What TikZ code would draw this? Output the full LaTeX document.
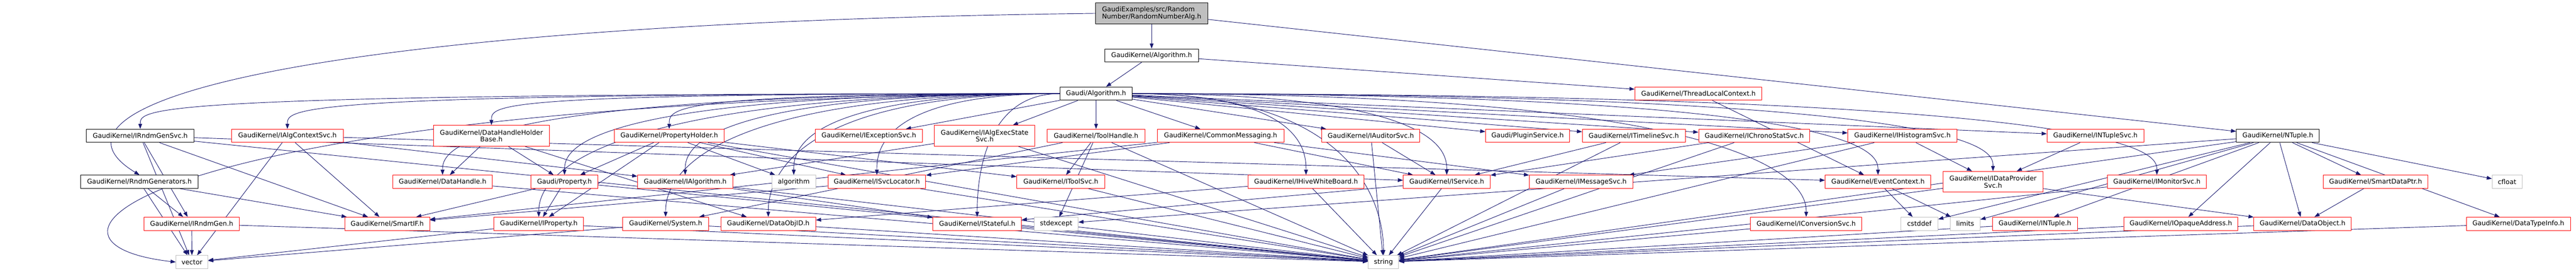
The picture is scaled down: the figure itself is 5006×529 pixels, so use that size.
\documentclass[tikz,border=0pt]{standalone}
\usepackage{fontspec}
\setmainfont{DejaVu Sans}
\usepackage{tikz}
\usetikzlibrary{arrows.meta,backgrounds}
\definecolor{edgeblue}{HTML}{191970}
\definecolor{leafgray}{HTML}{BFBFBF}

\begin{document}
\begin{tikzpicture}[x=0.75pt, y=-0.75pt,
    every node/.style={font=\fontsize{9.6}{10.1}\selectfont, inner sep=0pt, align=center,
      minimum height=19.3pt, line width=0.75pt, fill=white},
    hdr/.style={draw=black},
    trunc/.style={draw=red},
    sys/.style={draw=leafgray},
    root/.style={draw=black, fill=leafgray, align=left},
    tall/.style={minimum height=30.4pt},
    wd/.style={minimum width=#1*0.75pt},
    dep/.style={draw=edgeblue, line width=0.7pt, -{Triangle[length=7.5pt,width=5.5pt]}}]
    \useasboundingbox (0,0) rectangle (5006,529);

    % top rows
    \node[root, wd=218, tall] (top) at (2238,26) {GaudiExamples/src/Random\\Number/RandomNumberAlg.h};
    \node[hdr, wd=182] (kalg) at (2238,108) {GaudiKernel/Algorithm.h};
    \node[hdr, wd=140] (galg) at (2130,182.3) {Gaudi/Algorithm.h};
    \node[trunc, wd=247] (tlc) at (3300.5,182.3) {GaudiKernel/ThreadLocalContext.h};

    % row 3
    \node[hdr, wd=209] (rgsvc) at (272.5,264.4) {GaudiKernel/IRndmGenSvc.h};
    \node[trunc, wd=217] (acsvc) at (558.5,264.4) {GaudiKernel/IAlgContextSvc.h};
    \node[trunc, wd=226, tall] (dhhb) at (955,264.4) {GaudiKernel/DataHandleHolder\\Base.h};
    \node[trunc, wd=213] (phold) at (1300.5,264.4) {GaudiKernel/PropertyHolder.h};
    \node[trunc, wd=209] (excsvc) at (1688.5,264.4) {GaudiKernel/IExceptionSvc.h};
    \node[trunc, wd=195, tall] (aessvc) at (1913.5,264.4) {GaudiKernel/IAlgExecState\\Svc.h};
    \node[trunc, wd=190] (thand) at (2130,264.4) {GaudiKernel/ToolHandle.h};
    \node[trunc, wd=246] (cmsg) at (2372,264.4) {GaudiKernel/CommonMessaging.h};
    \node[trunc, wd=190] (audsvc) at (2664,264.4) {GaudiKernel/IAuditorSvc.h};
    \node[trunc, wd=163] (plugin) at (2968.5,264.4) {Gaudi/PluginService.h};
    \node[trunc, wd=200] (tlsvc) at (3175,264.4) {GaudiKernel/ITimelineSvc.h};
    \node[trunc, wd=216] (chrono) at (3409,264.4) {GaudiKernel/IChronoStatSvc.h};
    \node[trunc, wd=212] (histo) at (3697,264.4) {GaudiKernel/IHistogramSvc.h};
    \node[trunc, wd=188] (ntsvc) at (4072,264.4) {GaudiKernel/INTupleSvc.h};
    \node[hdr, wd=161] (ntuple) at (4426.5,264.4) {GaudiKernel/NTuple.h};

    % row 4
    \node[hdr, wd=228] (rndm) at (271,354) {GaudiKernel/RndmGenerators.h};
    \node[trunc, wd=194] (dhand) at (860,354) {GaudiKernel/DataHandle.h};
    \node[trunc, wd=130] (prop) at (1097,354) {Gaudi/Property.h};
    \node[trunc, wd=185] (ialg) at (1331.5,354) {GaudiKernel/IAlgorithm.h};
    \node[sys, wd=85] (algo) at (1542.5,354) {algorithm};
    \node[trunc, wd=190] (svcloc) at (1704,354) {GaudiKernel/ISvcLocator.h};
    \node[trunc, wd=171] (toolsvc) at (2061.5,354) {GaudiKernel/IToolSvc.h};
    \node[trunc, wd=226] (hive) at (2538,354) {GaudiKernel/IHiveWhiteBoard.h};
    \node[trunc, wd=169] (isvc) at (2811.5,354) {GaudiKernel/IService.h};
    \node[trunc, wd=201] (msgsvc) at (3072.5,354) {GaudiKernel/IMessageSvc.h};
    \node[trunc, wd=205] (evctx) at (3649.5,354) {GaudiKernel/EventContext.h};
    \node[trunc, wd=194, tall] (dpsvc) at (3873,354) {GaudiKernel/IDataProvider\\Svc.h};
    \node[trunc, wd=193] (monsvc) at (4191.5,354) {GaudiKernel/IMonitorSvc.h};
    \node[trunc, wd=203] (sdptr) at (4616.5,354) {GaudiKernel/SmartDataPtr.h};
    \node[sys, wd=58] (cfloat) at (4872,354) {cfloat};

    % row 5
    \node[trunc, wd=185] (rgen) at (372.5,435.7) {GaudiKernel/IRndmGen.h};
    \node[trunc, wd=165] (smartif) at (752.5,435.7) {GaudiKernel/SmartIF.h};
    \node[trunc, wd=174] (iprop) at (1047,435.7) {GaudiKernel/IProperty.h};
    \node[trunc, wd=167] (system) at (1293.5,435.7) {GaudiKernel/System.h};
    \node[trunc, wd=184] (doid) at (1493,435.7) {GaudiKernel/DataObjID.h};
    \node[trunc, wd=172] (istate) at (1899,435.7) {GaudiKernel/IStateful.h};
    \node[sys, wd=85] (stdexc) at (2052.5,435.7) {stdexcept};
    \node[trunc, wd=216] (convsvc) at (3510,435.7) {GaudiKernel/IConversionSvc.h};
    \node[sys, wd=72] (cstddef) at (3730,435.7) {cstddef};
    \node[sys, wd=58] (limits) at (3819,435.7) {limits};
    \node[trunc, wd=165] (intuple) at (3954.5,435.7) {GaudiKernel/INTuple.h};
    \node[trunc, wd=222] (opaque) at (4238,435.7) {GaudiKernel/IOpaqueAddress.h};
    \node[trunc, wd=189] (dobj) at (4474.5,435.7) {GaudiKernel/DataObject.h};
    \node[trunc, wd=202] (dtinfo) at (4894,435.7) {GaudiKernel/DataTypeInfo.h};

    % row 6
    \node[sys, wd=62] (vector) at (373,510.3) {vector};
    \node[sys, wd=59] (string) at (2688.5,510.3) {string};

    \begin{pgfonlayer}{background}
    \draw[dep] (top) -- (kalg);
    \draw[dep] (top.west) .. controls (600,45) and (40,200) .. (rndm.north);
    \draw[dep] (top) -- (ntuple);
    \draw[dep] (kalg) -- (galg);
    \draw[dep] (kalg) -- (tlc);
    \draw[dep] (tlc) -- (evctx);

    % Gaudi/Algorithm.h includes
    \foreach \t in {rgsvc,acsvc,dhhb,phold,dhand,prop,ialg,algo,svcloc,iprop,system,doid,istate}
      \draw[dep] (galg.west) .. controls (galg.west -| \t.north) and ([yshift=30pt]\t.north) .. (\t.north);
    \draw[dep] (galg.west) .. controls (300,195) and (-10,470) .. (vector.west);
    \foreach \t in {hive,isvc,string,convsvc,evctx,dpsvc,monsvc}
      \draw[dep] (galg.east) .. controls (galg.east -| \t.north) and ([yshift=30pt]\t.north) .. (\t.north);
    \foreach \t in {excsvc,aessvc,thand,cmsg,audsvc,plugin,tlsvc,chrono,histo,ntsvc}
      \draw[dep] (galg) -- (\t);

    \foreach \t in {vector,smartif,rgen,string,isvc} \draw[dep] (rgsvc) -- (\t);
    \foreach \t in {rgen,smartif,vector} \draw[dep] (rndm) -- (\t);
    \foreach \t in {vector,string} \draw[dep] (rgen) -- (\t);
    \foreach \t in {vector,smartif,ialg,evctx} \draw[dep] (acsvc) -- (\t);
    \foreach \t in {dhand,prop,doid} \draw[dep] (dhhb) -- (\t);
    \foreach \t in {prop,iprop,algo,svcloc,toolsvc,string} \draw[dep] (phold) -- (\t);
    \foreach \t in {ialg,string} \draw[dep] (aessvc) -- (\t);
    \foreach \t in {toolsvc,stdexc,system,string} \draw[dep] (thand) -- (\t);
    \foreach \t in {svcloc,smartif,isvc,msgsvc} \draw[dep] (cmsg) -- (\t);
    \foreach \s in {audsvc,tlsvc,chrono} {
      \draw[dep] (\s) -- (isvc);
      \draw[dep] (\s) -- (string);
    }
    \foreach \t in {dpsvc,msgsvc,string} \draw[dep] (histo) -- (\t);
    \draw[dep] (ntsvc) -- (dpsvc);
    \foreach \t in {sdptr,dobj,opaque,intuple,limits,cstddef,cfloat,dtinfo,string,stdexc}
      \draw[dep] (ntuple) -- (\t);
    \foreach \t in {istate,string} \draw[dep] (ialg) -- (\t);
    \foreach \t in {smartif,string} \draw[dep] (svcloc) -- (\t);
    \foreach \t in {doid,string} \draw[dep] (hive) -- (\t);
    \foreach \t in {istate,string} \draw[dep] (isvc) -- (\t);
    \foreach \t in {cstddef,limits} \draw[dep] (evctx) -- (\t);
    \foreach \t in {dobj,string} \draw[dep] (dpsvc) -- (\t);
    \draw[dep] (sdptr) -- (dobj);
    \foreach \t in {smartif,iprop,string} \draw[dep] (prop) -- (\t);
    \foreach \t in {vector,string} \draw[dep] (iprop) -- (\t);
    \foreach \t in {vector,string} \draw[dep] (system) -- (\t);
    \foreach \s in {toolsvc,msgsvc,monsvc,dhand,doid,istate,convsvc,intuple,opaque,dobj,dtinfo}
      \draw[dep] (\s) -- (string);
    \end{pgfonlayer}
\end{tikzpicture}
\end{document}
